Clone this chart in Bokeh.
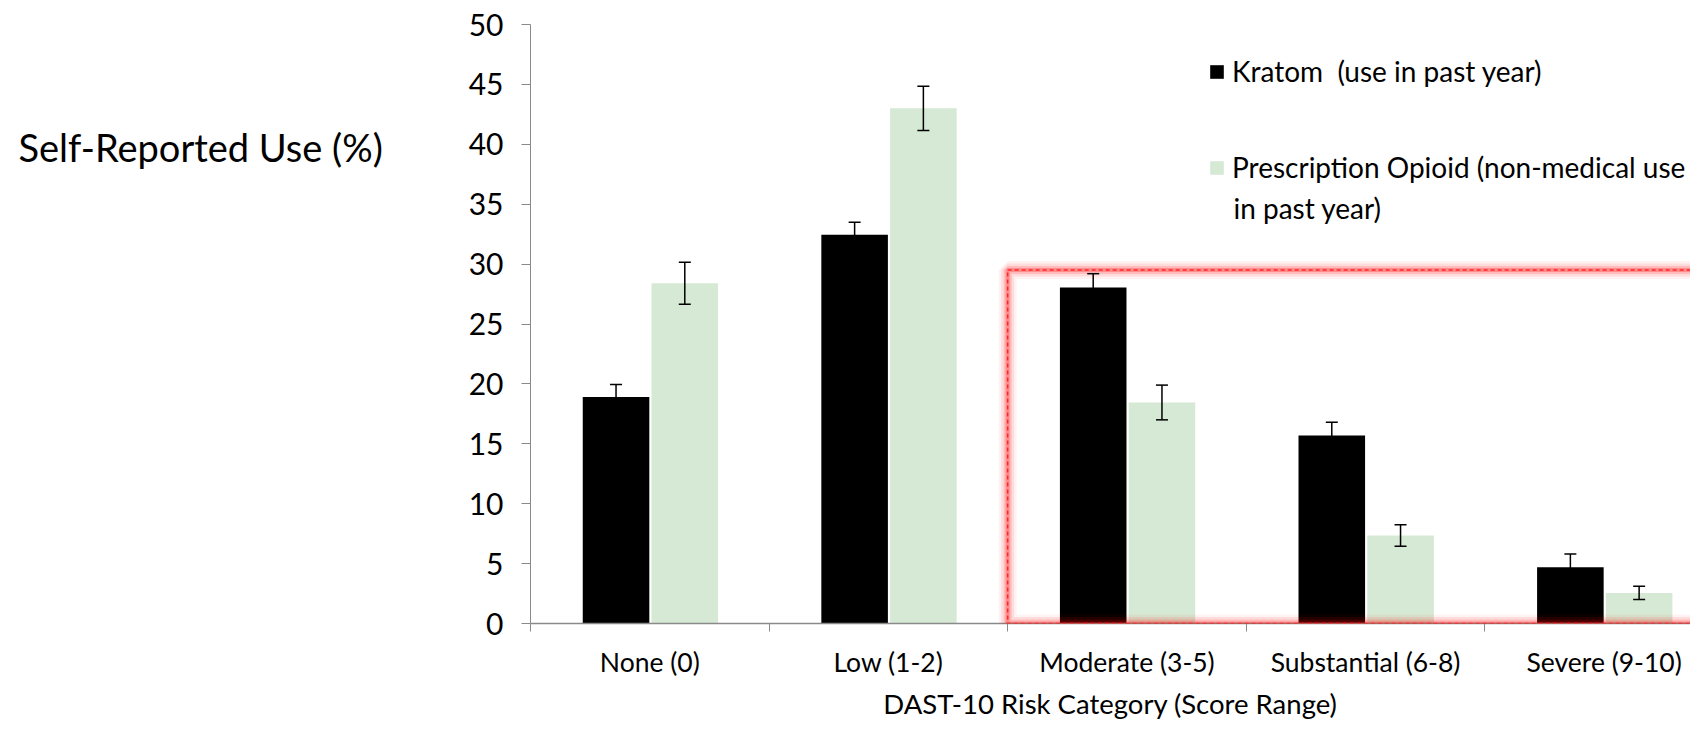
from bokeh.plotting import figure
from bokeh.layouts import row
from bokeh.models import (ColumnDataSource, Range1d, FixedTicker, Whisker, TeeHead,
                          BoxAnnotation, Label, Legend, LegendItem)
from bokeh.embed import file_html
from bokeh.resources import INLINE

# ---- data ----
categories = ["None (0)", "Low (1-2)", "Moderate (3-5)", "Substantial (6-8)", "Severe (9-10)"]
kratom = [18.9, 32.45, 28.05, 15.7, 4.7]
kratom_err = [1.05, 1.05, 1.15, 1.1, 1.1]
opioid = [28.4, 43.0, 18.45, 7.35, 2.55]
opioid_err = [1.75, 1.85, 1.45, 0.9, 0.55]
y_ticks = [0, 5, 10, 15, 20, 25, 30, 35, 40, 45, 50]
series_names = ["Kratom  (use in past year)", "Prescription Opioid (non-medical use", "in past year)"]
highlight_from = 2          # box around Moderate..Severe
highlight_top = 29.5
x_title = "DAST-10 Risk Category (Score Range)"
y_title = "Self-Reported Use (%)"

FONT = "Lato"
BLACK = "#000000"
GREEN = "#d5e9d4"
AXIS = "#8a8a8a"

n = len(categories)
centers = [i + 0.5 for i in range(n)]
bw = 0.279
k_x = [c - 0.1415 for c in centers]
o_x = [c + 0.1467 for c in centers]

k_src = ColumnDataSource(dict(x=k_x, top=kratom,
                              upper=[v + e for v, e in zip(kratom, kratom_err)],
                              lower=[v - e for v, e in zip(kratom, kratom_err)]))
o_src = ColumnDataSource(dict(x=o_x, top=opioid,
                              upper=[v + e for v, e in zip(opioid, opioid_err)],
                              lower=[v - e for v, e in zip(opioid, opioid_err)]))

# left panel holding the horizontal value title (frames are aligned in the row)
LEFT_W = 450
H = 722
FRAME_BOTTOM = 623
pl = figure(width=LEFT_W, height=H, output_backend="svg", toolbar_location=None,
            x_axis_location=None, y_axis_location=None,
            x_range=Range1d(0, 1), y_range=Range1d(0, 1), min_border=0)
pl.outline_line_color = None
pl.grid.visible = False
pl.add_layout(Label(x=18, y=FRAME_BOTTOM - 146, x_units="screen", y_units="screen", text=y_title,
                    text_font=FONT, text_font_size="38px", text_baseline="middle",
                    text_color="black"))

p = figure(width=1690 - LEFT_W, height=H, output_backend="svg", toolbar_location=None,
           x_range=Range1d(0, 4.862), y_range=Range1d(0, 50),
           min_border_left=530 - LEFT_W, min_border_right=0, min_border_top=24,
           min_border_bottom=H - FRAME_BOTTOM)
p.outline_line_color = None
p.grid.visible = False
p.background_fill_color = "white"

r_k = p.vbar(x="x", top="top", width=bw, source=k_src, fill_color=BLACK, line_color=None)
r_o = p.vbar(x="x", top="top", width=bw, source=o_src, fill_color=GREEN, line_color=None)

for src in (k_src, o_src):
    w = Whisker(base="x", upper="upper", lower="lower", source=src, level="overlay",
                line_color="black", line_width=1.5,
                upper_head=TeeHead(size=12, line_color="black", line_width=1.5),
                lower_head=TeeHead(size=12, line_color="black", line_width=1.5))
    p.add_layout(w)

# highlight box with glow
for lw, a in [(18, 0.05), (13, 0.09), (8, 0.15), (4, 0.25)]:
    p.add_layout(BoxAnnotation(left=highlight_from, right=n + 0.3, bottom=0, top=highlight_top,
                               fill_alpha=0, line_color="red", line_alpha=a, line_width=lw))
p.add_layout(BoxAnnotation(left=highlight_from, right=n + 0.3, bottom=0, top=highlight_top,
                           fill_alpha=0, line_color="#ff2626", line_alpha=1, line_width=1.5,
                           line_dash="4 3"))

# x axis
xa = p.xaxis[0]
xa.ticker = FixedTicker(ticks=centers, minor_ticks=list(range(n + 1)))
xa.major_label_overrides = {c: lab for c, lab in zip(centers, categories)}
xa.major_tick_out = 0
xa.major_tick_in = 0
xa.minor_tick_out = 8
xa.minor_tick_in = 0
xa.minor_tick_line_color = AXIS
xa.axis_line_color = AXIS
xa.axis_line_width = 1.5
xa.major_label_text_font = FONT
xa.major_label_text_font_size = "26.5px"
xa.major_label_text_color = "black"
xa.major_label_standoff = 14
xa.axis_label = x_title
xa.axis_label_text_font = FONT
xa.axis_label_text_font_size = "27.5px"
xa.axis_label_text_font_style = "normal"
xa.axis_label_text_color = "black"
xa.axis_label_standoff = 6

# y axis
ya = p.yaxis[0]
ya.ticker = FixedTicker(ticks=y_ticks)
ya.major_tick_out = 9
ya.major_tick_in = 0
ya.minor_tick_line_color = None
ya.major_tick_line_color = AXIS
ya.axis_line_color = AXIS
ya.major_label_text_font = FONT
ya.major_label_text_font_size = "30px"
ya.major_label_text_color = "black"
ya.major_label_standoff = 18

# legend
legend = Legend(items=[LegendItem(label=series_names[0], renderers=[r_k]),
                       LegendItem(label=series_names[1], renderers=[r_o])],
                location=(678, 439), orientation="vertical",
                glyph_width=17, glyph_height=17, label_standoff=7,
                label_text_font=FONT, label_text_font_size="28px", label_text_color="black",
                spacing=62, padding=0, margin=0,
                border_line_color=None, background_fill_alpha=0)
p.add_layout(legend, "center")

p.add_layout(Label(x=703, y=416, x_units="screen", y_units="screen", text=series_names[2],
                   text_font=FONT, text_font_size="28px", text_baseline="middle",
                   text_color="black"))

layout = row(pl, p, spacing=0)
open("out.html", "w").write(file_html(layout, INLINE))
